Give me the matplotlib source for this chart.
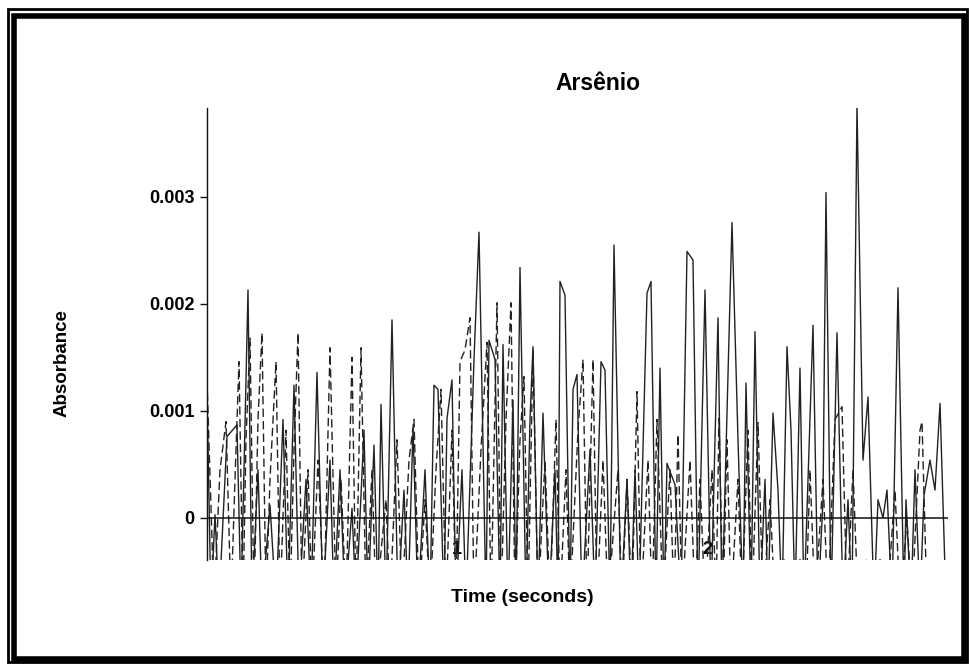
import numpy as np
import matplotlib
matplotlib.use('Agg')
import matplotlib.pyplot as plt
from matplotlib.patches import Rectangle

# absorbance values are written in units of 0.001
solid_t = [0.000, 0.016, 0.032, 0.048, 0.080, 0.120, 0.136, 0.164, 0.180, 0.204,
           0.220, 0.252, 0.276, 0.304, 0.324, 0.348, 0.368, 0.396, 0.416, 0.440,
           0.464, 0.492, 0.508, 0.532, 0.552, 0.580, 0.596, 0.628, 0.644, 0.668,
           0.684, 0.696, 0.716, 0.740, 0.764, 0.788, 0.804, 0.824, 0.844, 0.872,
           0.892, 0.908, 0.924, 0.948, 0.960, 0.980, 0.996, 1.020, 1.036, 1.068,
           1.088, 1.116, 1.128, 1.152, 1.172, 1.184, 1.204, 1.224, 1.236, 1.252,
           1.276, 1.292, 1.304, 1.324, 1.344, 1.368, 1.392, 1.404, 1.412, 1.432,
           1.452, 1.464, 1.480, 1.500, 1.532, 1.552, 1.576, 1.592, 1.612, 1.628,
           1.656, 1.680, 1.696, 1.712, 1.728, 1.760, 1.776, 1.796, 1.812, 1.828,
           1.840, 1.872, 1.896, 1.920, 1.944, 1.964, 1.992, 2.016, 2.044, 2.060,
           2.100, 2.124, 2.144, 2.156, 2.176, 2.192, 2.212, 2.232, 2.244, 2.264,
           2.284, 2.300, 2.320, 2.336, 2.352, 2.372, 2.388, 2.424, 2.444, 2.464,
           2.476, 2.496, 2.520, 2.544, 2.564, 2.580, 2.600, 2.624, 2.644, 2.668,
           2.684, 2.704, 2.720, 2.740, 2.764, 2.788, 2.796, 2.816, 2.832, 2.852,
           2.868, 2.892, 2.912, 2.932, 2.956]
solid_abs = [1.15, -0.8, 0.03, -0.8, 0.76, 0.87, -0.8, 2.13, -0.8, 0.45,
             -0.8, 0.12, -0.8, 0.92, -0.8, 1.24, -0.8, 0.36, -0.8, 1.36,
             -0.8, 0.54, -0.8, 0.45, -0.8, 0.09, -0.8, 0.82, -0.8, 0.68,
             -0.8, 1.06, -0.8, 1.85, -0.8, 0.26, -0.8, 0.84, -0.8, 0.45,
             -0.8, 1.24, 1.20, -0.8, 0.93, 1.29, -0.8, 0.45, -0.8, 1.48,
             2.67, -0.8, 1.66, 1.48, -0.8, 1.62, -0.8, 1.10, -0.8, 2.34,
             -0.8, 0.92, 1.60, -0.8, 0.98, -0.8, 0.45, -0.8, 2.21, 2.08,
             -0.8, 1.20, 1.34, -0.8, 0.64, -0.8, 1.46, 1.38, -0.8, 2.55,
             -0.8, 0.36, -0.8, 0.45, -0.8, 2.10, 2.21, -0.8, 1.40, -0.8,
             0.51, 0.31, -0.8, 2.49, 2.41, -0.8, 2.13, -0.8, 1.87, -0.8,
             2.76, 0.73, -0.8, 1.26, -0.8, 1.74, -0.8, 0.36, -0.8, 0.98,
             0.26, -0.8, 1.60, 0.82, -0.8, 1.40, -0.8, 1.80, -0.8, 0.17,
             3.04, -0.8, 1.73, -0.8, 0.17, -0.8, 3.86, 0.54, 1.13, -0.8,
             0.17, 0.00, 0.26, -0.8, 2.15, -0.8, 0.17, -0.8, 0.45, -0.8,
             0.21, 0.54, 0.26, 1.07, -0.8]

dashed_t = [0.000, 0.028, 0.052, 0.076, 0.096, 0.112, 0.128, 0.144, 0.156, 0.172,
            0.188, 0.204, 0.220, 0.236, 0.252, 0.276, 0.292, 0.316, 0.332, 0.348,
            0.364, 0.380, 0.404, 0.420, 0.444, 0.468, 0.492, 0.516, 0.536, 0.556,
            0.580, 0.596, 0.616, 0.636, 0.660, 0.676, 0.716, 0.732, 0.760, 0.780,
            0.808, 0.828, 0.848, 0.872, 0.892, 0.916, 0.936, 0.956, 0.980, 0.996,
            1.012, 1.032, 1.052, 1.068, 1.096, 1.120, 1.136, 1.160, 1.176, 1.196,
            1.216, 1.232, 1.252, 1.268, 1.284, 1.304, 1.324, 1.352, 1.372, 1.396,
            1.412, 1.436, 1.452, 1.484, 1.504, 1.520, 1.544, 1.560, 1.584, 1.604,
            1.644, 1.660, 1.680, 1.700, 1.720, 1.736, 1.764, 1.780, 1.800, 1.824,
            1.852, 1.868, 1.884, 1.900, 1.932, 1.952, 1.972, 1.992, 2.020, 2.036,
            2.048, 2.064, 2.080, 2.096, 2.124, 2.140, 2.164, 2.180, 2.204, 2.224,
            2.252, 2.272, 2.308, 2.332, 2.372, 2.396, 2.412, 2.432, 2.464, 2.484,
            2.512, 2.540, 2.560, 2.584, 2.604, 2.636, 2.660, 2.692, 2.720, 2.752,
            2.772, 2.800, 2.820, 2.852, 2.860, 2.880, 2.912, 2.932, 2.956]
dashed_abs = [1.29, -0.8, 0.45, 0.90, -0.8, 0.36, 1.46, -0.8, 0.73, 1.68,
              -0.8, 0.92, 1.73, -0.8, 0.36, 1.46, -0.8, 0.82, -0.8, 0.64,
              1.73, -0.8, 0.45, -0.8, 0.54, -0.8, 1.59, -0.8, 0.36, -0.8,
              1.50, -0.8, 1.59, -0.8, 0.45, -0.8, 0.17, -0.8, 0.73, -0.8,
              0.54, 0.92, -0.8, 0.17, -0.8, 0.45, 1.20, -0.8, 0.82, -0.8,
              1.46, 1.57, 1.87, -0.8, 0.64, 1.64, -0.8, 2.01, -0.8, 0.92,
              2.01, -0.8, 0.73, 1.32, -0.8, 1.57, -0.8, 0.54, -0.8, 0.92,
              -0.8, 0.45, -0.8, 0.82, 1.48, -0.8, 1.48, -0.8, 0.54, -0.8,
              0.45, -0.8, 0.36, -0.8, 1.18, -0.8, 0.54, -0.8, 0.92, -0.8,
              0.45, -0.8, 0.78, -0.8, 0.54, -0.8, 0.36, -0.8, 0.45, -0.8,
              0.93, -0.8, 0.73, -0.8, 0.36, -0.8, 0.82, -0.8, 0.89, -0.8,
              0.17, -0.8, -0.39, -0.8, -0.39, -0.8, 0.45, -0.8, 0.36, -0.8,
              0.92, 1.04, -0.8, 0.45, -0.8, -0.39, -0.8, -0.39, -0.8, 0.26,
              -0.8, -0.02, -0.8, 0.82, 0.90, -0.8, -0.39, -0.8, -0.8]

y_ticks = [0, 0.001, 0.002, 0.003]
y_labels = ['0', '0.001', '0.002', '0.003']
x_ticks = [1, 2]
x_labels = ['1', '2']

plt.rcParams['font.family'] = ['Liberation Sans', 'DejaVu Sans']

W, H = 970, 664
fig = plt.figure(figsize=(W / 100, H / 100), dpi=100)
fig.patch.set_facecolor('white')

ax = fig.add_axes([207 / W, 1 - 560 / H, (948 - 207) / W, (560 - 108) / H])
ax.set_facecolor('none')

ink = '#222222'
ax.plot(solid_t, np.array(solid_abs) * 1e-3, color=ink, lw=1.0)
ax.plot(dashed_t, np.array(dashed_abs) * 1e-3, color=ink, lw=1.0,
        linestyle=(0, (6, 3)))
ax.axhline(0, color='#111111', lw=1.1)

ax.set_xlim(0, 2.964)
ax.set_ylim(-0.000393, 0.00383)

for s in ['top', 'right', 'bottom']:
    ax.spines[s].set_visible(False)
ax.spines['left'].set_color('#111111')
ax.spines['left'].set_linewidth(1.0)

ax.set_yticks(y_ticks)
ax.set_yticklabels(y_labels, fontsize=13, fontweight='bold')
ax.tick_params(axis='y', length=5, width=1, color='#111111', pad=4)
ax.set_xticks(x_ticks)
ax.set_xticklabels(x_labels, fontsize=13, fontweight='bold')
ax.tick_params(axis='x', length=0, pad=-14)

fig.text(598 / W, 1 - 83 / H, 'Arsênio', ha='center', va='center',
         fontsize=16.5, fontweight='bold')
fig.text(522 / W, 1 - 597 / H, 'Time (seconds)', ha='center', va='center',
         fontsize=14, fontweight='bold')
fig.text(62 / W, 1 - 363 / H, 'Absorbance', ha='center', va='center',
         rotation=90, fontsize=13.5, fontweight='bold')

# scanned double frame
def frame(x0, y0, x1, y1, lw, color='black'):
    fig.add_artist(Rectangle((x0 / W, 1 - y1 / H), (x1 - x0) / W, (y1 - y0) / H,
                             transform=fig.transFigure, fill=False,
                             edgecolor=color, linewidth=lw))

frame(8, 8.5, 967, 662, 2.0)
frame(14.5, 16, 964, 659, 4.0)

fig.savefig('out.png', dpi=100, facecolor='white')
